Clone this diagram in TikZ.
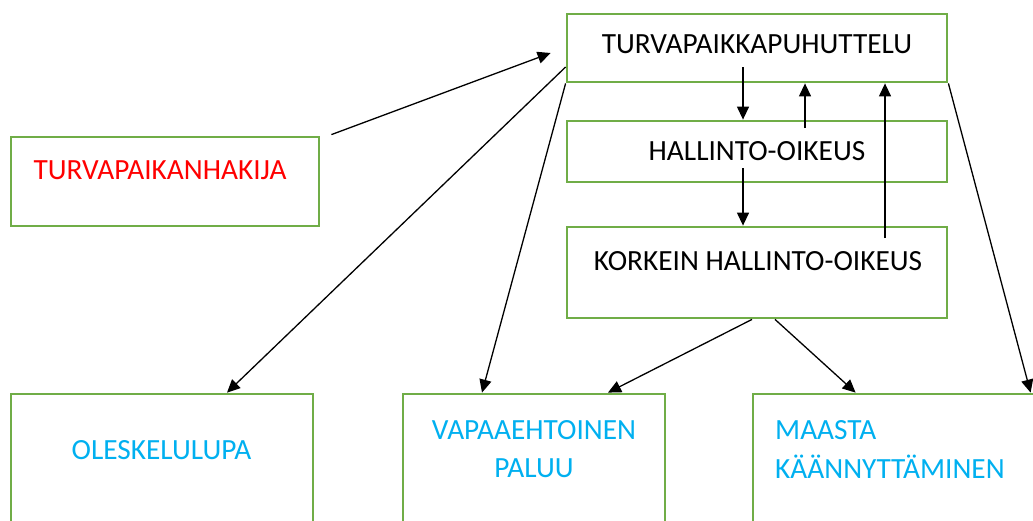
\documentclass[tikz,border=0pt]{standalone}
\usepackage{fontspec}
\setmainfont{Carlito}
\usetikzlibrary{arrows.meta}
\definecolor{boxgreen}{HTML}{70AD47}
\definecolor{txtred}{HTML}{FF0000}
\definecolor{txtblue}{HTML}{00B0F0}
\begin{document}
\begin{tikzpicture}[x=1pt,y=-1pt,
  box/.style={draw=boxgreen,line width=2.8pt,rectangle,inner sep=0pt},
  lbl/.style={anchor=base,inner sep=0pt,font=\fontsize{29.3}{35}\selectfont},
  conn/.style={line width=1.3pt,-{Triangle[length=13pt,width=12pt]}},
  plain/.style={line width=1.3pt}]
\useasboundingbox (0,0) rectangle (1033,520);
\clip (0,0) rectangle (1033,520);
\fill[white] (0,0) rectangle (1033,520);
% boxes
\node[box,minimum width=380pt,minimum height=68pt] (top) at (757,48) {};
\node[box,minimum width=380pt,minimum height=61pt] (hal) at (757,151.5) {};
\node[box,minimum width=380pt,minimum height=91pt] (kor) at (757,272.5) {};
\node[box,minimum width=308pt,minimum height=89pt] (hak) at (165,181.5) {};
\node[box,minimum width=302pt,minimum height=166pt] (ole) at (162,477) {};
\node[box,minimum width=262pt,minimum height=166pt] (vap) at (534,477) {};
\node[box,minimum width=320pt,minimum height=166pt] (maa) at (913,477) {};
% texts
\node[lbl] (ttop) at (757,53) {TURVAPAIKKAPUHUTTELU};
\node[lbl] (thal) at (757,160) {HALLINTO-OIKEUS};
\node[lbl] (tkor) at (758,270) {KORKEIN HALLINTO-OIKEUS};
\node[lbl,text=txtred] (thak) at (160,179) {TURVAPAIKANHAKIJA};
\node[lbl,text=txtblue] (tole) at (161.5,459) {OLESKELULUPA};
\node[lbl,text=txtblue] (tvap1) at (534,439) {VAPAAEHTOINEN};
\node[lbl,text=txtblue] (tvap2) at (534,477) {PALUU};
\node[lbl,text=txtblue,anchor=base west] (tmaa1) at (775,439) {MAASTA};
\node[lbl,text=txtblue,anchor=base west] (tmaa2) at (775,478) {KÄÄNNYTTÄMINEN};
% connectors
\draw[conn] ([xshift=11pt,yshift=1pt]hak.north east) -- ([xshift=-15pt,yshift=-5pt]top.west);
\draw[conn] ([yshift=-19pt]top.west) -- ([xshift=65pt]ole.north);
\draw[conn] (top.south west) -- ([xshift=-52pt]vap.north);
\draw[conn] (top.south east) -- ([xshift=279pt]maa.north west);
\draw[conn] ([xshift=-14pt,yshift=-19pt]top.center) -- ([xshift=-14pt]hal.north);
\draw[conn] ([xshift=48pt,yshift=23.5pt]hal.center) -- ([xshift=48pt]top.south);
\draw[conn] ([xshift=128pt,yshift=34.5pt]kor.center) -- ([xshift=128pt]top.south);
\draw[conn] ([xshift=-14pt,yshift=-16.5pt]hal.center) -- ([xshift=-14pt]kor.north);
\draw[conn] ([xshift=-5pt]kor.south) -- ([xshift=74pt]vap.north);
\draw[conn] ([xshift=18pt]kor.south) -- ([xshift=104pt]maa.north west);
\end{tikzpicture}
\end{document}
